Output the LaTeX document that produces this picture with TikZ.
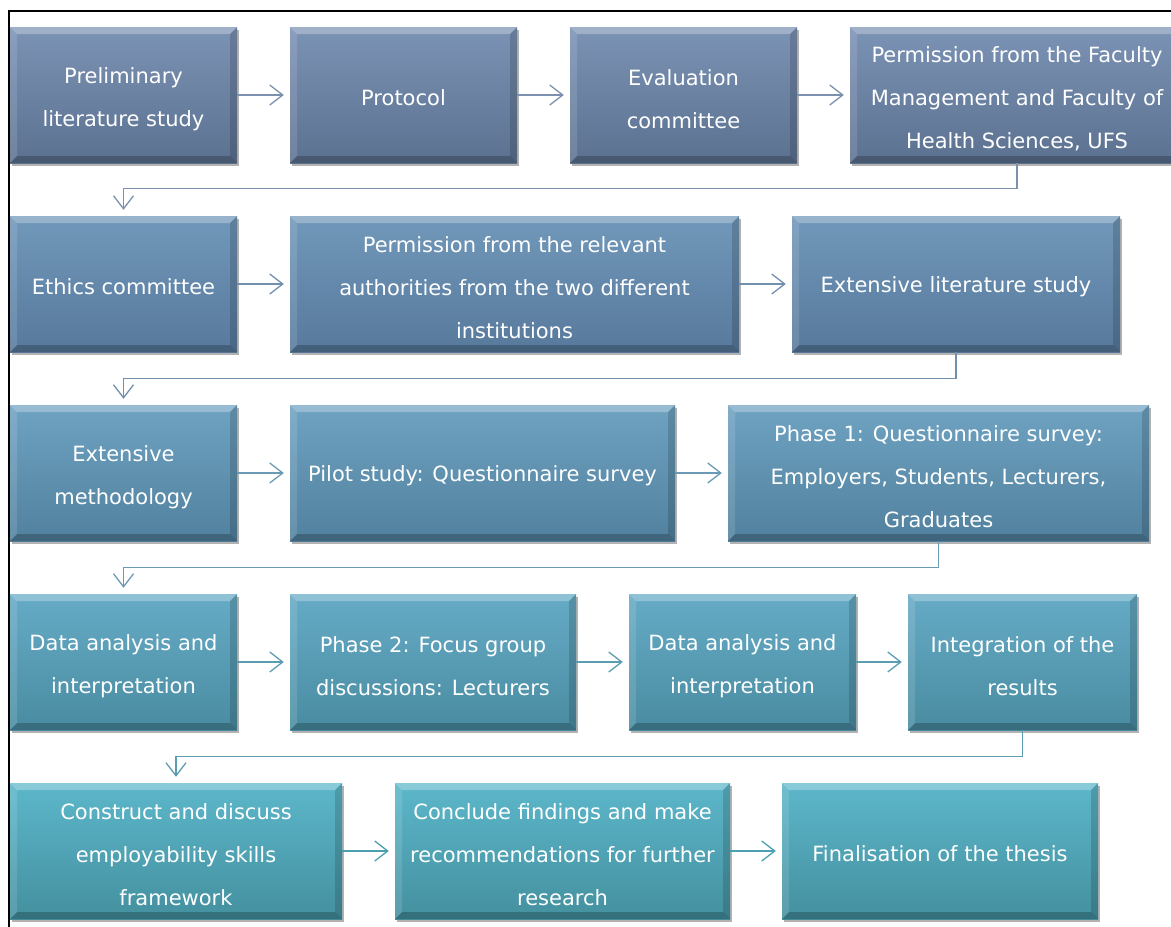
\documentclass[tikz,border=0pt]{standalone}
\usepackage{fontspec}
\setmainfont{DejaVu Sans}
\usetikzlibrary{arrows.meta,shadows,calc}

\definecolor{rowAtop}{HTML}{7B93B5}\definecolor{rowAbot}{HTML}{5C7190}
\definecolor{rowBtop}{HTML}{7198BA}\definecolor{rowBbot}{HTML}{57799C}
\definecolor{rowCtop}{HTML}{6FA3C2}\definecolor{rowCbot}{HTML}{51819E}
\definecolor{rowDtop}{HTML}{66ABC6}\definecolor{rowDbot}{HTML}{498CA1}
\definecolor{rowEtop}{HTML}{5CB7CA}\definecolor{rowEbot}{HTML}{44909F}
\definecolor{lineA}{HTML}{7C91AE}\definecolor{lineB}{HTML}{7090AE}
\definecolor{lineC}{HTML}{6B9AB5}\definecolor{lineD}{HTML}{5C9DB1}
\definecolor{lineE}{HTML}{4C9FB0}

% pushes the first text line of a box a little lower
\newcommand\up{\rule{0pt}{24pt}}

\tikzset{
  stage/.style={rectangle, minimum height=136pt, inner sep=0pt, align=center,
    text=white, font={\fontsize{21}{43}\selectfont},
    execute at begin node={\rule{0pt}{21pt}},
    top color=row#1top, bottom color=row#1bot,
    drop shadow={shadow xshift=1.5pt, shadow yshift=-2.5pt, opacity=.3, fill=black},
    path picture={
      \fill[white,opacity=.28] (path picture bounding box.north west) -- (path picture bounding box.north east)
        -- ++(-7,7) -- ($(path picture bounding box.north west)+(7,7)$) -- cycle;
      \fill[black,opacity=.22] (path picture bounding box.south west) -- (path picture bounding box.south east)
        -- ++(-7,-7) -- ($(path picture bounding box.south west)+(7,-7)$) -- cycle;
      \fill[white,opacity=.12] (path picture bounding box.north west) -- ++(7,7)
        -- ($(path picture bounding box.south west)+(7,-7)$) -- (path picture bounding box.south west) -- cycle;
      \fill[black,opacity=.15] (path picture bounding box.north east) -- ++(-7,7)
        -- ($(path picture bounding box.south east)+(-7,-7)$) -- (path picture bounding box.south east) -- cycle;
    }},
  flow/.style={draw=line#1, line width=1.3pt, shorten >=6pt,
    -{Straight Barb[length=13pt,width=20pt,line width=1.3pt]}}
}

\begin{document}
\begin{tikzpicture}[x=1pt, y=-1pt]
  \useasboundingbox[fill=white] (0,0) rectangle (1171,927);
  \draw[line width=1.5pt] (9,927) -- (9,11) -- (1171,11);

  % row 1
  \node[stage=A, minimum width=227pt] (prelim)   at (123.5,95) {\up Preliminary\\literature study};
  \node[stage=A, minimum width=227pt] (protocol) at (403.5,95) {Protocol};
  \node[stage=A, minimum width=227pt] (evalcom)  at (683.5,95) {\up Evaluation\\committee};
  \node[stage=A, minimum width=334pt] (permfac)  at (1017,95)  {\up Permission from the Faculty\\Management and Faculty of\\Health Sciences, UFS};
  % row 2
  \node[stage=B, minimum width=227pt] (ethics)   at (123.5,284) {Ethics committee};
  \node[stage=B, minimum width=449pt] (permauth) at (514.5,284) {\up Permission from the relevant\\authorities from the two different\\institutions};
  \node[stage=B, minimum width=328pt] (extlit)   at (956,284)   {Extensive literature study};
  % row 3
  \node[stage=C, minimum width=227pt] (extmeth)  at (123.5,473) {\up Extensive\\methodology};
  \node[stage=C, minimum width=385pt] (pilot)    at (482.5,473) {Pilot study: Questionnaire survey};
  \node[stage=C, minimum width=421pt] (phaseone) at (938.5,473) {\up Phase 1: Questionnaire survey:\\Employers, Students, Lecturers,\\Graduates};
  % row 4
  \node[stage=D, minimum width=227pt] (analysisA) at (123.5,662) {\up Data analysis and\\interpretation};
  \node[stage=D, minimum width=286pt] (phasetwo)  at (433,662)   {\up Phase 2: Focus group\\discussions: Lecturers};
  \node[stage=D, minimum width=227pt] (analysisB) at (742.5,662) {\up Data analysis and\\interpretation};
  \node[stage=D, minimum width=229pt] (integr)    at (1022.5,662) {\up Integration of the\\results};
  % row 5
  \node[stage=E, minimum width=332pt] (construct) at (176,851)   {\up Construct and discuss\\employability skills\\framework};
  \node[stage=E, minimum width=335pt] (conclude)  at (562.5,851) {\up Conclude findings and make\\recommendations for further\\research};
  \node[stage=E, minimum width=316pt] (final)     at (940,851)   {Finalisation of the thesis};

  % connectors
  \draw[flow=A] (prelim) -- (protocol);
  \draw[flow=A] (protocol) -- (evalcom);
  \draw[flow=A] (evalcom) -- (permfac);
  \draw[flow=A] (permfac.south) -- ++(0,25) -| (ethics.north);
  \draw[flow=B] (ethics) -- (permauth);
  \draw[flow=B] (permauth) -- (extlit);
  \draw[flow=B] (extlit.south) -- ++(0,26) -| (extmeth.north);
  \draw[flow=C] (extmeth) -- (pilot);
  \draw[flow=C] (pilot) -- (phaseone);
  \draw[flow=C] (phaseone.south) -- ++(0,26) -| (analysisA.north);
  \draw[flow=D] (analysisA) -- (phasetwo);
  \draw[flow=D] (phasetwo) -- (analysisB);
  \draw[flow=D] (analysisB) -- (integr);
  \draw[flow=D] (integr.south) -- ++(0,26) -| (construct.north);
  \draw[flow=E] (construct) -- (conclude);
  \draw[flow=E] (conclude) -- (final);
\end{tikzpicture}
\end{document}
